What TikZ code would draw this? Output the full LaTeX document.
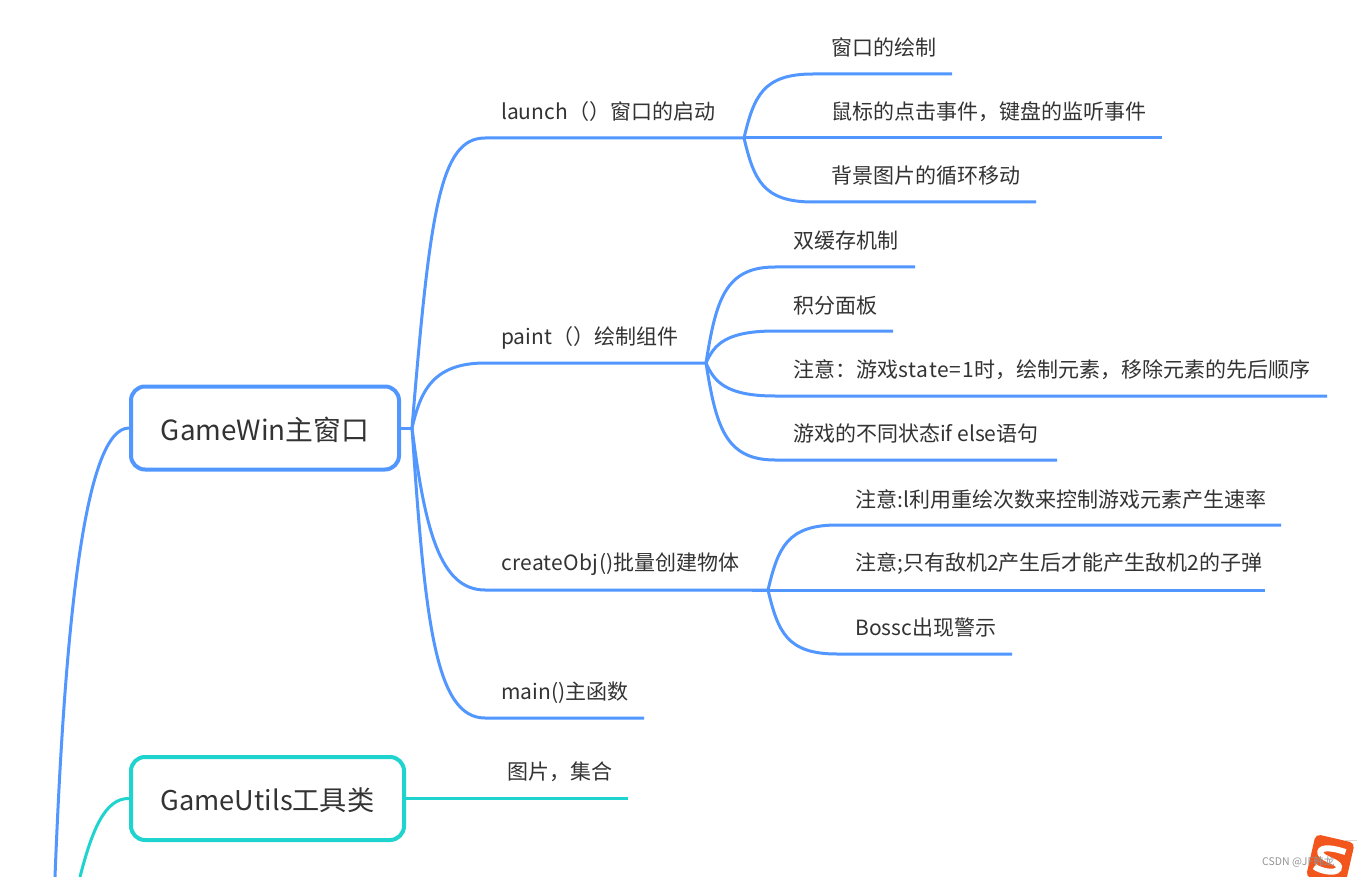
\documentclass[tikz,border=0pt]{standalone}
\usepackage{fontspec}
\setmainfont{Noto Sans CJK SC}
\definecolor{lineblue}{HTML}{5297FF}
\definecolor{linecyan}{HTML}{1FD3CF}
\definecolor{inkgray}{HTML}{333333}
\definecolor{logoorange}{HTML}{F2561D}
\tikzset{
  rootbox/.style={draw=#1, line width=4pt, rounded corners=14pt, fill=white, inner sep=0pt, text height=29pt, text depth=5pt, text=inkgray},
  leaf/.style={anchor=west, inner sep=0pt, font=\fontsize{21}{21}\selectfont, text=inkgray},
  wire/.style={line width=3pt, lineblue},
  cyanwire/.style={line width=3pt, linecyan}
}
\begin{document}
\begin{tikzpicture}[x=1pt, y=-1pt]
\useasboundingbox (0,0) rectangle (1357,877);
\fill[white] (0,0) rectangle (1357,877);

% the two boxes
\node[rootbox=lineblue, minimum width=268pt, minimum height=83pt, font=\fontsize{27.8}{27.8}\selectfont] (win) at (265,428) {GameWin主窗口};
\node[rootbox=linecyan, minimum width=273pt, minimum height=83pt, font=\fontsize{27.2}{27.2}\selectfont] (utils) at (267.5,798.5) {GameUtils工具类};

% free ends
\coordinate (trunka) at (55,877);
\coordinate (trunkb) at (80,877);
\coordinate (hub) at (412,428);
\coordinate (launa) at (485,138);
\coordinate (launhub) at (744,138);
\coordinate (launb) at (820,138);
\coordinate (launc) at (1162,138);
\coordinate (painta) at (485,363);
\coordinate (painthub) at (706,363);
\coordinate (obja) at (485,590);
\coordinate (objhub) at (768,590);
\coordinate (objb) at (752,590);
\coordinate (objc) at (1265,590);
\coordinate (maina) at (485,718);
\coordinate (mainb) at (644,718);
\coordinate (imgend) at (628,798.5);

% second level text
\node[leaf] (laun) at (501,112) {launch（）窗口的启动};
\node[leaf] (paint) at (501,338) {paint（）绘制组件};
\node[leaf] (obj) at (501,564) {{\addfontfeature{LetterSpace=1.5}createObj()}批量创建物体};
\node[leaf] (main) at (501,693) {main()主函数};
\node[leaf] (img) at (507,772) {图片，集合};

% third level text
\node[leaf] (w1) at (831,47) {窗口的绘制};
\node[leaf] (w2) at (831,112) {鼠标的点击事件，键盘的监听事件};
\node[leaf] (w3) at (831,176) {背景图片的循环移动};
\node[leaf] (p1) at (793,241) {双缓存机制};
\node[leaf] (p2) at (793,306) {积分面板};
\node[leaf] (p3) at (793,370) {注意：游戏{\addfontfeature{LetterSpace=4}state=1}时，绘制元素，移除元素的先后顺序};
\node[leaf] (p4) at (793,434) {游戏的不同状态if else语句};
\node[leaf] (o1) at (855,499) {注意:l利用重绘次数来控制游戏元素产生速率};
\node[leaf] (o2) at (855,564) {注意;只有敌机2产生后才能产生敌机2的子弹};
\node[leaf] (o3) at (855,628) {Bossc出现警示};

% left trunk
\draw[wire] (trunka) .. controls (65,620) and (85,428) .. (win.west);
\draw[cyanwire] (trunkb) .. controls (92,830) and (105,798) .. (utils.west);
\draw[cyanwire] (utils.east) -- (imgend);

% from the main box
\draw[wire] (win.east) -- (hub);
\draw[wire] (hub) .. controls (430,210) and (440,138) .. (launa) -- (launhub);
\draw[wire] (hub) .. controls (420,395) and (430,363) .. (painta) -- (painthub);
\draw[wire] (hub) .. controls (425,530) and (440,590) .. (obja) -- (objhub);
\draw[wire] (hub) .. controls (425,620) and (435,718) .. (maina) -- (mainb);

% launch
\draw[wire] (launhub) .. controls (754,96) and (763,74) .. (813,74) -- (952,74);
\draw[wire] (launhub) -- (launb) -- (launc);
\draw[wire] (launhub) .. controls (754,180) and (763,202) .. (813,202) -- (1036,202);

% paint
\draw[wire] (painthub) .. controls (716,300) and (725,267) .. (775,267) -- (915,267);
\draw[wire] (painthub) .. controls (714,345) and (725,331) .. (775,331) -- (893,331);
\draw[wire] (painthub) .. controls (714,381) and (725,396) .. (775,396) -- (1327,396);
\draw[wire] (painthub) .. controls (716,426) and (725,460) .. (775,460) -- (1057,460);

% createObj
\draw[wire] (objhub) .. controls (778,548) and (787,525) .. (837,525) -- (1281,525);
\draw[wire] (objb) -- (objc);
\draw[wire] (objhub) .. controls (778,632) and (787,654) .. (837,654) -- (1012,654);

% corner logo
\draw[black!15, line width=1pt] (1345,840) -- (1357,840);
\begin{scope}[shift={(1331,857)}, rotate=-13]
\fill[logoorange, rounded corners=5pt] (-20,-19) rectangle (20,25);
\draw[white, line width=6pt] (13,-8) .. controls (-6,-10) and (-14,-6) .. (-11,-1) .. controls (-6,5) and (12,2) .. (10,10) .. controls (8,16) and (-8,16) .. (-14,13);
\end{scope}
\node[anchor=west, inner sep=0pt, text=gray!85, font=\fontsize{10.5}{10.5}\selectfont] (mark) at (1262,862) {CSDN @JF韩龙};
\end{tikzpicture}
\end{document}
